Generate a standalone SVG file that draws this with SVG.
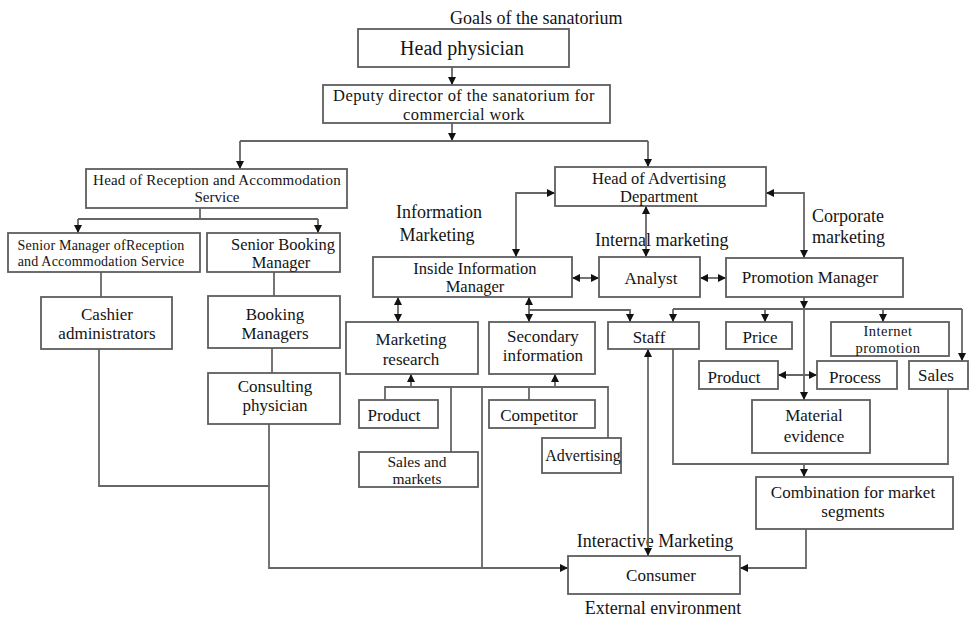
<svg xmlns="http://www.w3.org/2000/svg" width="969" height="617" viewBox="0 0 969 617">
<style>
.box{fill:#fff;stroke:#5e5e5e;stroke-width:1.8}
.t{font-family:"Liberation Serif",serif;font-size:17px;fill:#141414;text-anchor:middle}
.l{font-family:"Liberation Serif",serif;font-size:18px;fill:#141414}
.c{fill:none;stroke:#666;stroke-width:1.8}
.a{marker-end:url(#ah)}
.b{marker-start:url(#ah);marker-end:url(#ah)}
</style>
<defs>
<marker id="ah" viewBox="0 0 10 10" refX="10" refY="5" markerWidth="8" markerHeight="8" markerUnits="userSpaceOnUse" orient="auto-start-reverse"><path d="M0,0 L10,5 L0,10 z" fill="#111"/></marker>
</defs>
<rect width="969" height="617" fill="#fff"/>

<g id="labels">
<text class="l" x="450" y="24">Goals of the sanatorium</text>
<text class="l" x="439" y="218" text-anchor="middle">Information</text>
<text class="l" x="437" y="241" text-anchor="middle">Marketing</text>
<text class="l" x="595" y="246">Internal marketing</text>
<text class="l" x="812" y="222">Corporate</text>
<text class="l" x="812" y="243">marketing</text>
<text class="l" x="655" y="547" text-anchor="middle">Interactive Marketing</text>
<text class="l" x="663" y="614" text-anchor="middle">External environment</text>
</g>

<g id="connectors">
<path class="c a" d="M452,67 V85"/>
<path class="c a" d="M452,123 V141"/>
<path class="c" d="M240,141 H648"/>
<path class="c a" d="M240,141 V169"/>
<path class="c a" d="M648,141 V167"/>
<path class="c" d="M200,208 V219 M78,219 H318"/>
<path class="c a" d="M78,219 V233"/>
<path class="c a" d="M318,219 V233"/>
<path class="c" d="M101,272 V297"/>
<path class="c" d="M274,272 V296"/>
<path class="c" d="M272,348 V373"/>
<path class="c" d="M99,349 V486 H269"/>
<path class="c a" d="M269,424 V568 H568"/>
<path class="c b" d="M555,193 H516 V257"/>
<path class="c b" d="M646,206 V257"/>
<path class="c b" d="M766,193 H804 V258"/>
<path class="c b" d="M572,278 H599"/>
<path class="c b" d="M700,278 H726"/>
<path class="c b" d="M398,297 V322"/>
<path class="c b" d="M529,297 V322"/>
<path class="c a" d="M529,310 H630 V322"/>
<path class="c a" d="M804,297 V309"/>
<path class="c a" d="M804,309 V400"/>
<path class="c" d="M673,309 H962"/>
<path class="c a" d="M673,309 V322"/>
<path class="c a" d="M765,309 V322"/>
<path class="c a" d="M883,309 V322"/>
<path class="c a" d="M962,309 V361"/>
<path class="c b" d="M778,375 H817"/>
<path class="c b" d="M648,349 V556"/>
<path class="c" d="M673,349 V464 H948 V388"/>
<path class="c a" d="M804,464 V477"/>
<path class="c a" d="M806,529 V568 H740"/>
<path class="c a" d="M411,387 V374"/>
<path class="c" d="M385,400 V387 H608 V438"/>
<path class="c" d="M451,387 V452"/>
<path class="c" d="M482,387 V568"/>
<path class="c" d="M529,387 V400"/>
<path class="c a" d="M555,387 V374"/>
</g>

<g id="head-physician"><rect class="box" x="358" y="29" width="211" height="38"/><text class="t" x="462" y="55" style="font-size:20px">Head physician</text></g>
<g id="deputy-director"><rect class="box" x="323" y="85" width="287" height="38"/><text class="t" x="464" y="101" style="font-size:16.5px;letter-spacing:0.4px">Deputy director of the sanatorium for</text><text class="t" x="464" y="119.5" style="font-size:16.5px;letter-spacing:0.4px">commercial work</text></g>
<g id="head-reception"><rect class="box" x="86" y="169" width="261" height="39"/><text class="t" x="217" y="184.5" style="font-size:15px;letter-spacing:0.2px">Head of Reception and Accommodation</text><text class="t" x="217" y="201.5" style="font-size:15px">Service</text></g>
<g id="senior-manager-reception"><rect class="box" x="8" y="233" width="192" height="39"/><text class="t" x="101" y="250" style="font-size:14px;letter-spacing:0.2px">Senior Manager ofReception</text><text class="t" x="101" y="266" style="font-size:14px;letter-spacing:0.2px">and Accommodation Service</text></g>
<g id="senior-booking-manager"><rect class="box" x="207" y="233" width="133" height="39"/><text class="t" x="283" y="250" style="font-size:16.5px">Senior Booking</text><text class="t" x="281" y="268" style="font-size:16.5px">Manager</text></g>
<g id="cashier-administrators"><rect class="box" x="41" y="297" width="131" height="52"/><text class="t" x="107" y="320">Cashier</text><text class="t" x="107" y="339">administrators</text></g>
<g id="booking-managers"><rect class="box" x="208" y="296" width="132" height="52"/><text class="t" x="275" y="320">Booking</text><text class="t" x="275" y="339">Managers</text></g>
<g id="consulting-physician"><rect class="box" x="208" y="373" width="132" height="51"/><text class="t" x="275" y="392">Consulting</text><text class="t" x="275" y="411">physician</text></g>
<g id="head-advertising"><rect class="box" x="555" y="167" width="211" height="39"/><text class="t" x="659" y="184" style="font-size:16.5px">Head of Advertising</text><text class="t" x="659" y="202" style="font-size:16.5px">Department</text></g>
<g id="inside-information-manager"><rect class="box" x="373" y="257" width="199" height="40"/><text class="t" x="475" y="274" style="font-size:16.5px">Inside Information</text><text class="t" x="475" y="292" style="font-size:16.5px">Manager</text></g>
<g id="analyst"><rect class="box" x="599" y="257" width="101" height="40"/><text class="t" x="651" y="284">Analyst</text></g>
<g id="promotion-manager"><rect class="box" x="726" y="258" width="177" height="39"/><text class="t" x="810" y="283">Promotion Manager</text></g>
<g id="marketing-research"><rect class="box" x="346" y="322" width="132" height="52"/><text class="t" x="411" y="345">Marketing</text><text class="t" x="411" y="365">research</text></g>
<g id="secondary-information"><rect class="box" x="489" y="322" width="106" height="52"/><text class="t" x="543" y="342">Secondary</text><text class="t" x="543" y="361">information</text></g>
<g id="staff"><rect class="box" x="608" y="322" width="91" height="27"/><text class="t" x="649" y="343">Staff</text></g>
<g id="price"><rect class="box" x="726" y="322" width="66" height="27"/><text class="t" x="760" y="343">Price</text></g>
<g id="internet-promotion"><rect class="box" x="831" y="322" width="118" height="34"/><text class="t" x="888" y="336" style="font-size:14.5px;letter-spacing:0.5px">Internet</text><text class="t" x="888" y="352.5" style="font-size:14.5px;letter-spacing:0.5px">promotion</text></g>
<g id="product-right"><rect class="box" x="699" y="361" width="79" height="28"/><text class="t" x="734" y="383">Product</text></g>
<g id="process"><rect class="box" x="817" y="361" width="80" height="28"/><text class="t" x="855" y="383">Process</text></g>
<g id="sales"><rect class="box" x="909" y="361" width="59" height="28"/><text class="t" x="936" y="381">Sales</text></g>
<g id="material-evidence"><rect class="box" x="752" y="400" width="118" height="53"/><text class="t" x="814" y="421">Material</text><text class="t" x="814" y="442">evidence</text></g>
<g id="combination"><rect class="box" x="756" y="477" width="197" height="52"/><text class="t" x="853" y="498">Combination for market</text><text class="t" x="853" y="517">segments</text></g>
<g id="product-left"><rect class="box" x="359" y="400" width="79" height="28"/><text class="t" x="394" y="421">Product</text></g>
<g id="competitor"><rect class="box" x="489" y="400" width="106" height="28"/><text class="t" x="539" y="421">Competitor</text></g>
<g id="advertising"><rect class="box" x="542" y="438" width="79" height="35"/><text class="t" x="583" y="461" style="font-size:16px">Advertising</text></g>
<g id="sales-and-markets"><rect class="box" x="359" y="452" width="119" height="35"/><text class="t" x="417" y="466.5" style="font-size:15.5px">Sales and</text><text class="t" x="417" y="483.5" style="font-size:15.5px">markets</text></g>
<g id="consumer"><rect class="box" x="568" y="556" width="172" height="38"/><text class="t" x="661" y="581">Consumer</text></g>
</svg>
